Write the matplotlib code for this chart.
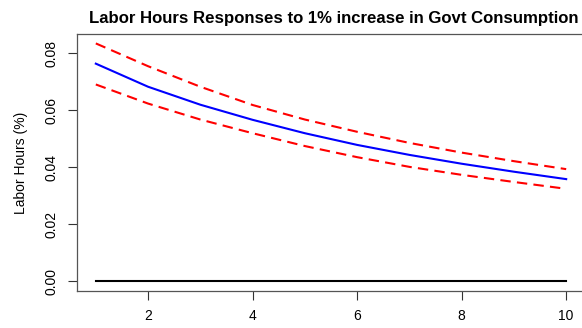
import matplotlib
matplotlib.use("Agg")
import matplotlib.pyplot as plt
from matplotlib.ticker import FixedLocator, FormatStrFormatter

plt.rcParams['font.family'] = ['Liberation Sans', 'DejaVu Sans']

horizon = [1, 2, 3, 4, 5, 6, 7, 8, 9, 10]
response = [0.0764, 0.0683, 0.0620, 0.0567, 0.0520, 0.0479, 0.0444, 0.0413, 0.0385, 0.0359]
upper = [0.0835, 0.0755, 0.0683, 0.0619, 0.0568, 0.0525, 0.0486, 0.0452, 0.0422, 0.0394]
lower = [0.0691, 0.0624, 0.0568, 0.0520, 0.0475, 0.0436, 0.0402, 0.0374, 0.0349, 0.0325]
zero = [0.0] * len(horizon)
xticks = [2, 4, 6, 8, 10]
yticks = [0.00, 0.02, 0.04, 0.06, 0.08]

W, H = 582, 328
fig = plt.figure(figsize=(W / 100, H / 100), dpi=100)
left, right, top, bottom = 77, 585, 34, 291
ax = fig.add_axes([left / W, 1 - bottom / H, (right - left) / W, (bottom - top) / H])

ax.plot(horizon, upper, color='#ff0000', lw=1.5, dashes=(5, 3))
ax.plot(horizon, lower, color='#ff0000', lw=1.5, dashes=(5, 3))
ax.plot(horizon, response, color='#0000ff', lw=1.5)
ax.plot(horizon, zero, color='black', lw=1.5)

ax.set_xlim(0.64, 10.36)
ax.set_ylim(-0.00334, 0.0868)
ax.xaxis.set_major_locator(FixedLocator(xticks))
ax.yaxis.set_major_locator(FixedLocator(yticks))
ax.yaxis.set_major_formatter(FormatStrFormatter('%.2f'))
ax.tick_params(axis='both', direction='out', length=6.5, width=0.8, color='#333333',
               labelsize=10, pad=6.5)
ax.tick_params(axis='y', labelrotation=90)
for lbl in ax.get_yticklabels():
    lbl.set_va('center')
for s in ax.spines.values():
    s.set_color('#555555')
    s.set_linewidth(0.9)

ax.set_ylabel('Labor Hours (%)', fontsize=10, labelpad=12)
fig.text(333.5 / W, 1 - 18 / H, 'Labor Hours Responses to 1% increase in Govt Consumption',
         ha='center', va='center', fontsize=12.1, fontweight='bold')

fig.savefig('out.png', dpi=100)
